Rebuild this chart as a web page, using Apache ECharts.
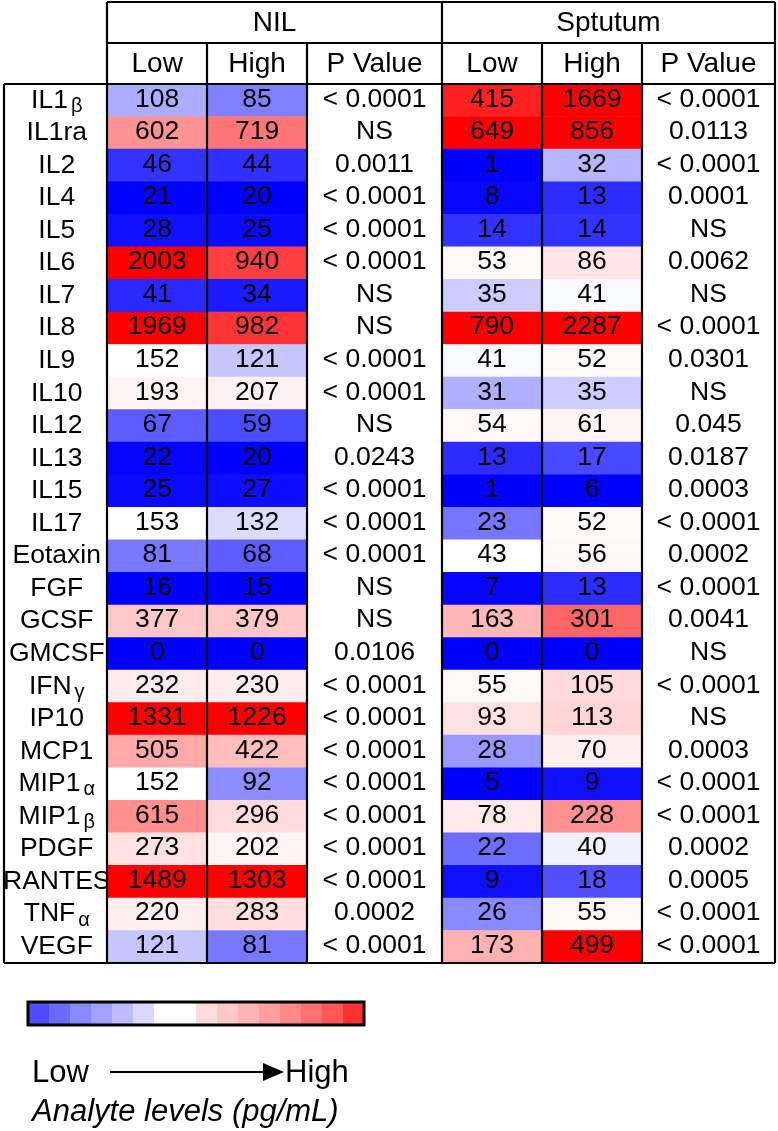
<!DOCTYPE html>
<html>
<head>
<meta charset="utf-8">
<script src="https://cdn.jsdelivr.net/npm/echarts@6/dist/echarts.min.js"></script>
<style>
  html, body { margin: 0; padding: 0; background: #fff; }
  #chart { width: 778px; height: 1131px; }
</style>
</head>
<body>
<div id="chart"></div>
<script>
// ---------------- DATA ----------------
const analytes = ['IL1β','IL1ra','IL2','IL4','IL5','IL6','IL7','IL8','IL9','IL10','IL12','IL13','IL15','IL17',
  'Eotaxin','FGF','GCSF','GMCSF','IFNγ','IP10','MCP1','MIP1α','MIP1β','PDGF','RANTES','TNFα','VEGF'];
const groupLabels = ['NIL', 'Sptutum'];
const levelLabels = ['Low', 'High'];
const pLabel = 'P Value';

const nilLow  = [108,602,46,21,28,2003,41,1969,152,193,67,22,25,153,81,16,377,0,232,1331,505,152,615,273,1489,220,121];
const nilHigh = [85,719,44,20,25,940,34,982,121,207,59,20,27,132,68,15,379,0,230,1226,422,92,296,202,1303,283,81];
const nilP = ['< 0.0001','NS','0.0011','< 0.0001','< 0.0001','< 0.0001','NS','NS','< 0.0001','< 0.0001','NS','0.0243',
  '< 0.0001','< 0.0001','< 0.0001','NS','NS','0.0106','< 0.0001','< 0.0001','< 0.0001','< 0.0001','< 0.0001',
  '< 0.0001','< 0.0001','0.0002','< 0.0001'];

const spLow  = [415,649,1,8,14,53,35,790,41,31,54,13,1,23,43,7,163,0,55,93,28,5,78,22,9,26,173];
const spHigh = [1669,856,32,13,14,86,41,2287,52,35,61,17,6,52,56,13,301,0,105,113,70,9,228,40,18,55,499];
const spP = ['< 0.0001','0.0113','< 0.0001','0.0001','NS','0.0062','NS','< 0.0001','0.0301','NS','0.045','0.0187',
  '0.0003','< 0.0001','0.0002','< 0.0001','0.0041','NS','< 0.0001','NS','0.0003','< 0.0001','< 0.0001','0.0002',
  '0.0005','< 0.0001','< 0.0001'];

const legendLow = 'Low';
const legendHigh = 'High';
const legendCaption = 'Analyte levels (pg/mL)';

// ---------------- STYLE / LAYOUT ----------------
const FONT = '"Liberation Sans", Arial, Helvetica, sans-serif';
const X = { label: 4, nil: 107, nilMid: 207, nilP: 307, sp: 442, spMid: 542, spP: 642, right: 775 };
const Y = { top: 2, head1: 43, head2: 84, bottom: 963 };
const LW = 2.2;
const CELL_FONT = 26.5;

// colour scales (value -> blue / white / red), separate per group
const nilScale = { blue: 20, white: 150, red: 1200, max: 2100, step: 5 };
const spScale  = { blue: 7,  white: 42,  red: 470,  max: 2300, step: 2 };
function scaleColor(s, v) {
  let r, g, b;
  if (v <= s.white) {
    const t = Math.max(0, Math.min(1, (v - s.blue) / (s.white - s.blue)));
    r = g = Math.round(255 * t); b = 255;
  } else {
    const t = Math.max(0, Math.min(1, (v - s.white) / (s.red - s.white)));
    r = 255; g = b = Math.round(255 * (1 - t));
  }
  return 'rgb(' + r + ',' + g + ',' + b + ')';
}
function stops(s) {
  const out = [];
  for (let v = 0; v <= s.max; v += s.step) out.push(scaleColor(s, v));
  return out;
}
const legendColors = ['#4d4dff','#6a6aff','#8888ff','#a2a2ff','#bcbcff','#dadaff','#ffffff','#ffffff',
  '#ffdcdc','#ffc8c8','#ffb4b4','#ffa0a0','#ff8888','#ff7070','#ff5656','#ff3030'];

function labelFmt(v) {
  const last = v.slice(-1);
  if ('αβγ'.indexOf(last) >= 0) return '{a|' + v.slice(0, -1) + '}{g|' + last + '}';
  return '{a|' + v + '}';
}

const heatData = (a, b) => a.map((v, i) => [0, i, v]).concat(b.map((v, i) => [1, i, v]));
const pData = analytes.map((_, i) => [0, i]);

const cellLabel = { show: true, color: '#000', fontSize: CELL_FONT, fontFamily: FONT, offset: [0, -1],
  formatter: p => String(p.value[2]) };

function xAx(grid, data) {
  return { type: 'category', gridIndex: grid, data: data, position: 'top',
    axisLine: { show: false }, axisTick: { show: false }, splitLine: { show: false },
    axisLabel: { color: '#000', fontSize: 28, fontFamily: FONT, margin: 20, verticalAlign: 'middle', interval: 0 } };
}
function yAx(grid, show) {
  return { type: 'category', gridIndex: grid, data: analytes, inverse: true,
    axisLine: { show: false }, axisTick: { show: false }, splitLine: { show: false },
    axisLabel: show ? { show: true, interval: 0, align: 'center', margin: (X.nil - X.label) / 2 - 1,
      formatter: labelFmt,
      rich: { a: { color: '#000', fontSize: CELL_FONT, fontFamily: FONT },
              g: { color: '#000', fontSize: 20, fontFamily: FONT, padding: [12, 0, 0, 3] } } } : { show: false } };
}
function pSeries(axis, texts) {
  return { type: 'scatter', xAxisIndex: axis, yAxisIndex: axis, data: pData, symbolSize: 0,
    itemStyle: { color: '#fff', opacity: 1 }, emphasis: { disabled: true }, silent: true,
    label: { show: true, position: 'inside', offset: [0, -1], color: '#000', opacity: 1,
      textBorderWidth: 0, fontSize: CELL_FONT, fontFamily: FONT,
      formatter: p => texts[p.dataIndex] } };
}

// ---------------- graphic: table lines, headers, legend ----------------
function line(x1, y1, x2, y2, w) {
  return { type: 'line', z: 100, shape: { x1, y1, x2, y2 }, style: { stroke: '#000', lineWidth: w || LW } };
}
function text(str, x, y, size, align, italic) {
  return { type: 'text', z: 100, style: { text: str, x, y, fill: '#000',
    font: (italic ? 'italic ' : '') + size + 'px ' + FONT,
    align: align, textAlign: align, verticalAlign: 'middle', textVerticalAlign: 'middle' } };
}
const g = [];
// horizontals
g.push(line(X.nil, Y.top, X.right, Y.top));
g.push(line(X.nil, Y.head1, X.right, Y.head1));
g.push(line(X.label, Y.head2, X.right, Y.head2));
g.push(line(X.label, Y.bottom, X.right, Y.bottom));
// verticals
g.push(line(X.label, Y.head2, X.label, Y.bottom));
[X.nil, X.sp, X.right].forEach(x => g.push(line(x, Y.top, x, Y.bottom)));
[X.nilMid, X.nilP, X.spMid, X.spP].forEach(x => g.push(line(x, Y.head1, x, Y.bottom)));
// group headers
g.push(text(groupLabels[0], (X.nil + X.sp) / 2, (Y.top + Y.head1) / 2 + 1, 28, 'center'));
g.push(text(groupLabels[1], (X.sp + X.right) / 2, (Y.top + Y.head1) / 2 + 1, 28, 'center'));
// colour legend
const LB = { x: 28, y: 1002, w: 336, h: 23 };
const cw = LB.w / legendColors.length;
legendColors.forEach((c, i) => g.push({ type: 'rect', z: 90,
  shape: { x: LB.x + i * cw, y: LB.y, width: cw + 0.5, height: LB.h }, style: { fill: c } }));
g.push({ type: 'rect', z: 100, shape: { x: LB.x, y: LB.y, width: LB.w, height: LB.h },
  style: { fill: 'none', stroke: '#000', lineWidth: 3 } });
// arrow legend
g.push(text(legendLow, 32, 1073, 31, 'left'));
g.push(line(110, 1072, 266, 1072, 2));
g.push({ type: 'polygon', z: 100, shape: { points: [[263, 1063], [284, 1072], [263, 1081]] }, style: { fill: '#000' } });
g.push(text(legendHigh, 285, 1073, 31, 'left'));
g.push(text(legendCaption, 32, 1112, 31, 'left', true));

const option = {
  backgroundColor: '#fff',
  animation: false,
  grid: [
    { left: X.nil, top: Y.head2, width: X.nilP - X.nil, height: Y.bottom - Y.head2 },
    { left: X.nilP, top: Y.head2, width: X.sp - X.nilP, height: Y.bottom - Y.head2 },
    { left: X.sp, top: Y.head2, width: X.spP - X.sp, height: Y.bottom - Y.head2 },
    { left: X.spP, top: Y.head2, width: X.right - X.spP, height: Y.bottom - Y.head2 }
  ],
  xAxis: [xAx(0, levelLabels), xAx(1, [pLabel]), xAx(2, levelLabels), xAx(3, [pLabel])],
  yAxis: [yAx(0, true), yAx(1, false), yAx(2, false), yAx(3, false)],
  visualMap: [
    { type: 'continuous', show: false, seriesIndex: 0, dimension: 2, min: 0, max: nilScale.max, inRange: { color: stops(nilScale) } },
    { type: 'continuous', show: false, seriesIndex: 2, dimension: 2, min: 0, max: spScale.max, inRange: { color: stops(spScale) } }
  ],
  series: [
    { type: 'heatmap', xAxisIndex: 0, yAxisIndex: 0, data: heatData(nilLow, nilHigh), label: cellLabel,
      emphasis: { disabled: true } },
    pSeries(1, nilP),
    { type: 'heatmap', xAxisIndex: 2, yAxisIndex: 2, data: heatData(spLow, spHigh), label: cellLabel,
      emphasis: { disabled: true } },
    pSeries(3, spP)
  ],
  graphic: g
};

const chart = echarts.init(document.getElementById('chart'), null, { renderer: 'canvas' });
chart.setOption(option);
</script>
</body>
</html>
